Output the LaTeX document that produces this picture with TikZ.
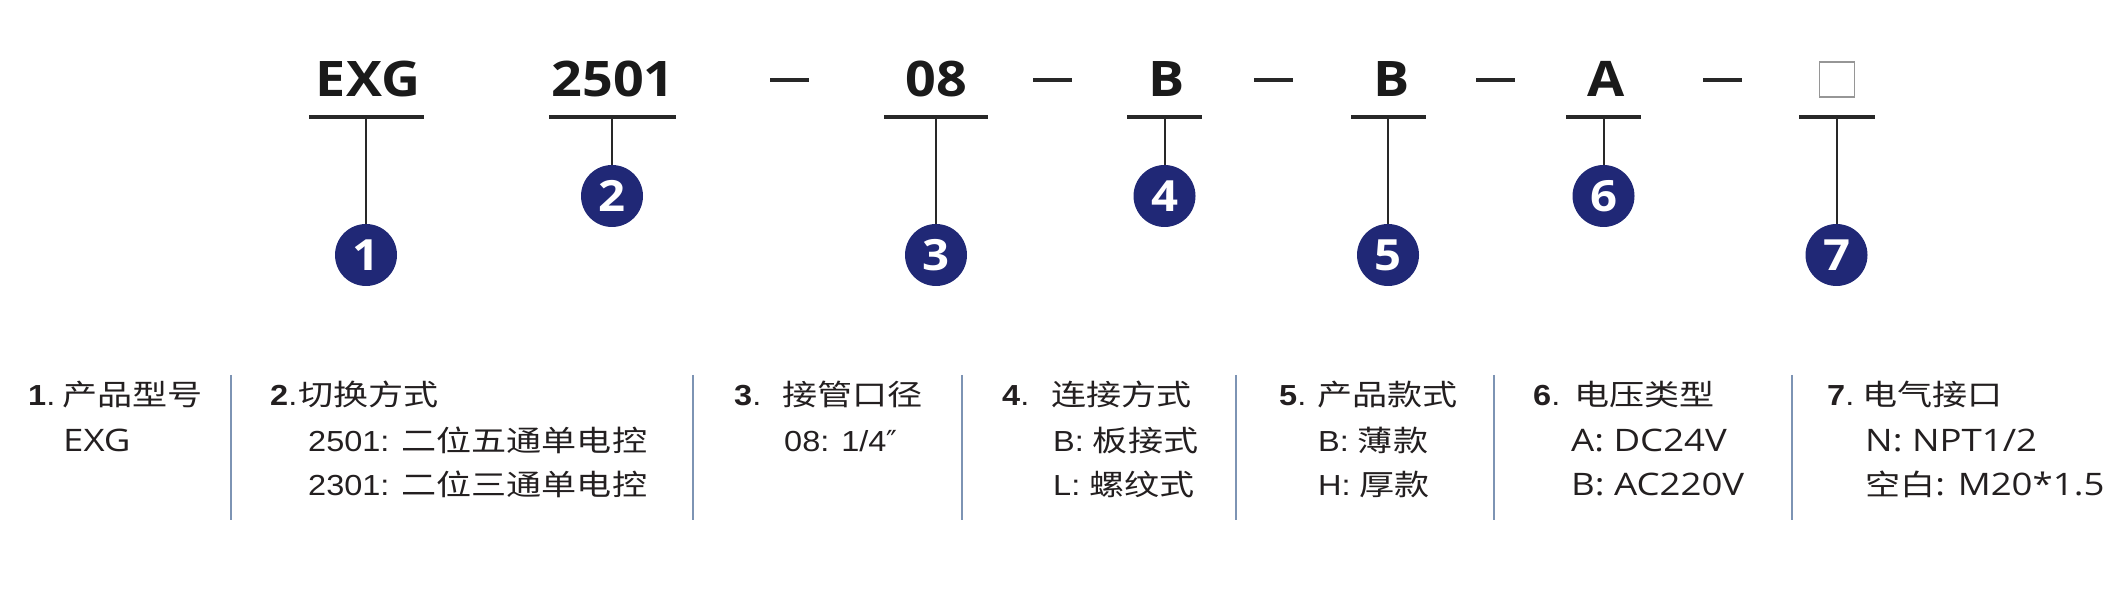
\documentclass[tikz,border=0pt]{standalone}
\usepackage{fontspec}
\setmainfont{Liberation Sans}
\newfontfamily\cjk[FakeStretch=1.21]{Noto Sans CJK SC}
\newfontfamily\ara[FakeStretch=1.12]{Liberation Sans}
\newfontfamily\opn[FakeStretch=1.18]{Open Sans}
\newfontfamily\opt[FakeStretch=1.1]{Open Sans}
\newfontfamily\djv{DejaVu Sans}
\definecolor{navy}{RGB}{32,40,118}
\definecolor{barcol}{RGB}{40,40,40}
\definecolor{codeblack}{RGB}{26,26,26}
\definecolor{sepcol}{RGB}{125,148,180}
\definecolor{txtcol}{RGB}{35,31,32}
\definecolor{boxgray}{RGB}{150,150,150}
\begin{document}
\begin{tikzpicture}[x=1pt,y=-1pt,
  code/.style={font=\opt\bfseries\fontsize{49}{55}\selectfont, text=codeblack, inner sep=0pt, anchor=base},
  ubar/.style={fill=barcol, minimum height=3.5pt, inner sep=0pt, minimum width=#1},
  dbar/.style={fill=barcol, minimum height=4pt, minimum width=39pt, inner sep=0pt},
  num/.style={circle, fill=navy, minimum size=62pt, inner sep=0pt, text=white, font=\opt\bfseries\fontsize{43}{43}\selectfont},
  stem/.style={draw=barcol, line width=2pt},
  sepline/.style={draw=sepcol, line width=2pt},
  txt/.style={anchor=base west, inner sep=0pt, text=txtcol, font=\fontsize{29}{35}\selectfont},
  subo/.style={anchor=base west, inner sep=0pt, text=txtcol, font=\opn\fontsize{31}{35}\selectfont},
]
\useasboundingbox (0,0) rectangle (2113,609);

% code labels
\node[code] (t1) at (368,97) {EXG};
\node[code] (t2) at (613,97) {2501};
\node[code] (t3) at (936,97) {08};
\node[code] (t4) at (1167,97) {B};
\node[code] (t5) at (1392,97) {B};
\node[code] (t6) at (1606,97) {A};
\node[draw=boxgray, line width=1.5pt, minimum size=35pt, inner sep=0pt] (t7) at (1837,79.5) {};

% dashes
\node[dbar] (d1) at (789,80) {};
\node[dbar] (d2) at (1052,80) {};
\node[dbar] (d3) at (1273,80) {};
\node[dbar] (d4) at (1495,80) {};
\node[dbar] (d5) at (1722,80) {};

% underlines
\node[ubar=115pt] (u1) at (366,117) {};
\node[ubar=127pt] (u2) at (612,117) {};
\node[ubar=104pt] (u3) at (936,117) {};
\node[ubar=75pt] (u4) at (1164.5,117) {};
\node[ubar=75pt] (u5) at (1388,117) {};
\node[ubar=75pt] (u6) at (1603.5,117) {};
\node[ubar=76pt] (u7) at (1836.5,117) {};

% circles
\node[num] (c1) at (366,255) {1};
\node[num] (c2) at (612,196) {2};
\node[num] (c3) at (936,255) {3};
\node[num] (c4) at (1164.5,196) {4};
\node[num] (c5) at (1388,255) {5};
\node[num] (c6) at (1603.5,196) {6};
\node[num] (c7) at (1836.5,255) {7};

\foreach \i in {1,...,7} \draw[stem] (u\i.center) -- (c\i.north);

% separators
\foreach \x in {231,693,962,1236,1494,1792} \draw[sepline] (\x,375) -- (\x,520);

% headings
\node[txt] (h1) at (28,406) {\makebox[34pt][l]{\ara{\bfseries 1}.}\cjk 产品型号};
\node[txt] (h2) at (270,406) {\makebox[28pt][l]{\ara{\bfseries 2}.}\cjk 切换方式};
\node[txt] (h3) at (734,406) {\makebox[48pt][l]{\ara{\bfseries 3}.}\cjk 接管口径};
\node[txt] (h4) at (1002,406) {\makebox[49pt][l]{\ara{\bfseries 4}.}\cjk 连接方式};
\node[txt] (h5) at (1279,406) {\makebox[38pt][l]{\ara{\bfseries 5}.}\cjk 产品款式};
\node[txt] (h6) at (1533,406) {\makebox[41pt][l]{\ara{\bfseries 6}.}\cjk 电压类型};
\node[txt] (h7) at (1827,406) {\makebox[35pt][l]{\ara{\bfseries 7}.}\cjk 电气接口};

% sub lines
\node[subo] (s1a) at (63,451) {EXG};
\node[txt] (s2a) at (308,451) {{\ara 2501: }\cjk 二位五通单电控};
\node[txt] (s2b) at (308,495) {{\ara 2301: }\cjk 二位三通单电控};
\node[txt] (s3a) at (784,451) {\ara 08: 1/4{\djv ″}};
\node[txt] (s4a) at (1053,451) {{\ara B: }\cjk 板接式};
\node[txt] (s4b) at (1053,495) {{\ara L: }\cjk 螺纹式};
\node[txt] (s5a) at (1318,451) {{\ara B: }\cjk 薄款};
\node[txt] (s5b) at (1318,495) {{\ara H: }\cjk 厚款};
\node[subo] (s6a) at (1571,451) {A: DC24V};
\node[subo] (s6b) at (1571,495) {B: AC220V};
\node[subo] (s7a) at (1865,451) {N: NPT1/2};
\node[subo] (s7b) at (1865,495) {{\cjk\fontsize{29}{35}\selectfont 空白}: M20*1.5};
\end{tikzpicture}
\end{document}
